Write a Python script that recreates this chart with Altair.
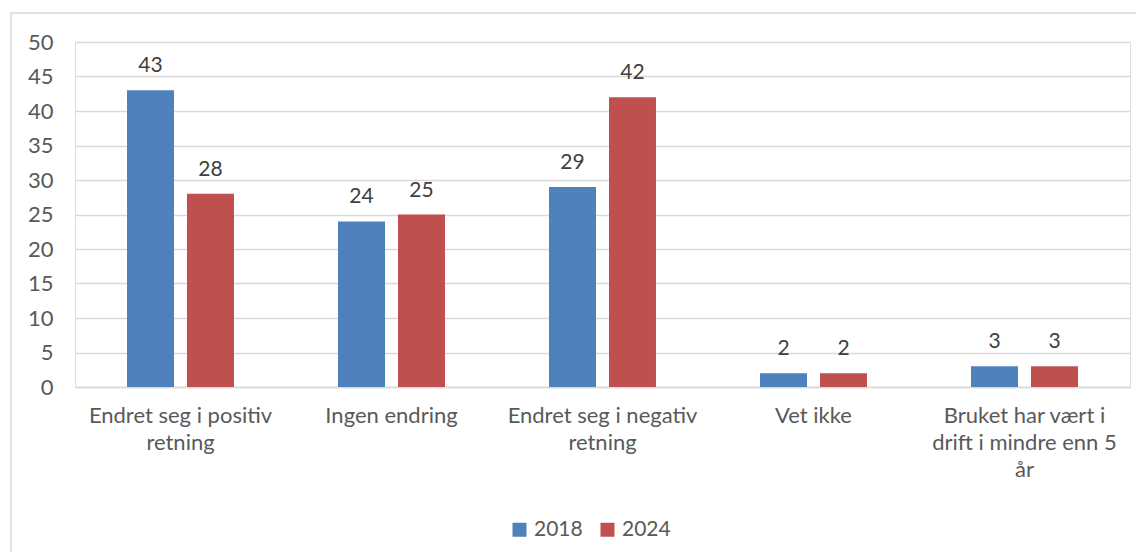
import altair as alt
import pandas as pd

categories = [
    "Endret seg i positiv\nretning",
    "Ingen endring",
    "Endret seg i negativ\nretning",
    "Vet ikke",
    "Bruket har vært i\ndrift i mindre enn 5\når",
]
years = ["2018", "2024"]
values_2018 = [43, 24, 29, 2, 3]
values_2024 = [28, 25, 42, 2, 3]
colors = ["#4F81BD", "#C0504D"]

rows = []
for c, v in zip(categories, values_2018):
    rows.append({"kategori": c, "år": "2018", "verdi": v})
for c, v in zip(categories, values_2024):
    rows.append({"kategori": c, "år": "2024", "verdi": v})
df = pd.DataFrame(rows)

FONT = "Lato"
FS = 21

x = alt.X(
    "kategori:N",
    sort=categories,
    title=None,
    scale=alt.Scale(paddingInner=0.493, paddingOuter=0.2465),
    axis=alt.Axis(
        labelExpr="split(datum.label, '\\n')",
        labelAngle=0,
        labelFont=FONT,
        labelFontSize=22,
        labelColor="#595959",
        labelLineHeight=27,
        labelPadding=18,
        ticks=False,
        domainColor="#D9D9D9",
        domainWidth=1.5,
        grid=False,
        labelLimit=300,
    ),
)
xoff = alt.XOffset(
    "år:N", sort=years, scale=alt.Scale(paddingInner=0.2167, paddingOuter=0)
)
y = alt.Y(
    "verdi:Q",
    title=None,
    scale=alt.Scale(domain=[0, 50], nice=False),
    axis=alt.Axis(
        values=list(range(0, 51, 5)),
        labelFont=FONT,
        labelFontSize=22,
        labelColor="#595959",
        labelPadding=22,
        ticks=False,
        domain=False,
        gridColor="#D9D9D9",
        gridWidth=1.5,
    ),
)
color = alt.Color(
    "år:N",
    sort=years,
    scale=alt.Scale(domain=years, range=colors),
    legend=alt.Legend(
        title=None,
        orient="none",
        direction="horizontal",
        legendX=434,
        legendY=477,
        symbolType="square",
        symbolSize=196,
        symbolStrokeWidth=0,
        labelFont=FONT,
        labelFontSize=FS,
        labelColor="#595959",
        labelOffset=4,
        columnPadding=14,
    ),
)

bars = alt.Chart(df).mark_bar().encode(x=x, xOffset=xoff, y=y, color=color)
labels = alt.Chart(df).mark_text(
    font=FONT, fontSize=FS, color="#404040", baseline="alphabetic", dy=-18
).encode(x=x, xOffset=xoff, y=y, text="verdi:Q")

frame = alt.Chart(pd.DataFrame({"a": [0]})).mark_rect(
    fill="transparent", stroke="#D9D9D9", strokeWidth=1.5, clip=False
).encode(
    x=alt.value(-64), x2=alt.value(1200), y=alt.value(-29), y2=alt.value(700)
)

chart = (
    alt.layer(frame, bars, labels)
    .properties(
        width=1055,
        height=345,
        autosize=alt.AutoSizeParams(type="none"),
        padding={"left": 67, "top": 34, "right": 6, "bottom": 165},
    )
    .configure_view(stroke=None)
    .configure(background="white")
)

chart.save("out.html", embed_options={"renderer": "svg", "actions": False})
